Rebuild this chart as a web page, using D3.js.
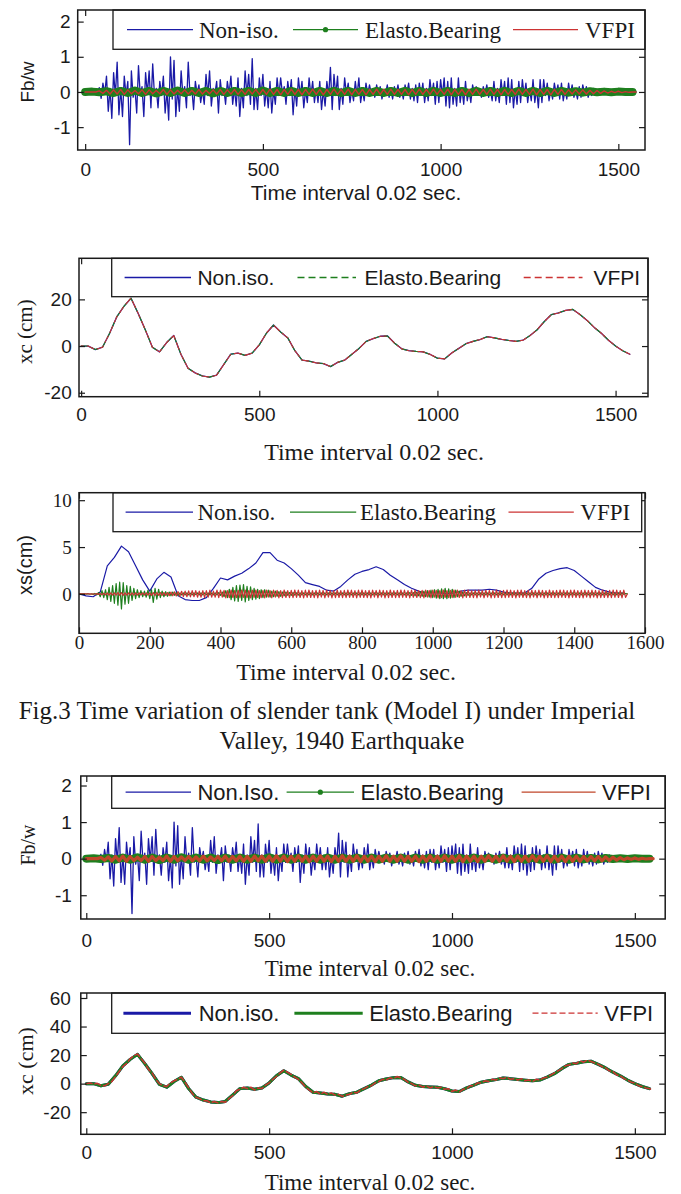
<!DOCTYPE html>
<html><head><meta charset="utf-8">
<script src="https://cdn.jsdelivr.net/npm/d3@7/dist/d3.min.js"></script>
<style>body{margin:0;background:#fff}svg{display:block}</style>
</head><body><svg id="c" width="681" height="1194"></svg>
<script>
// ---------------- DATA ----------------
// time index of every series: sample number (time interval 0.02 s)
const fbStepNonIso = 5, fbStepElasto = 20, fbStepVfpi = 10;
const fbNonIso = [
0,0,0,0,0,0,0,0.05,0.12,-0.18,
0.25,-0.05,0.45,-0.55,0.1,-0.75,0.55,-0.1,0.85,-0.65,
0.1,-0.7,0.45,-0.1,0.3,-1.5,0.6,-0.15,0.1,-0.6,
0.75,-0.1,0.15,-0.7,0.55,-0.05,0.6,-0.45,0.8,-0.1,
0.1,-0.45,0.3,-0.1,0.45,-0.6,0.05,-0.8,1.0,-0.2,
0.9,-0.7,0.1,-0.55,0.6,-0.1,0.15,-0.45,0.85,-0.1,
0.1,-0.5,0.3,-0.05,0.2,-0.3,0.05,-0.35,0.5,-0.1,
0.6,-0.4,0.1,-0.05,0.3,-0.6,0.35,-0.1,0.1,-0.35,
0.3,-0.05,0.45,-0.35,0.1,-0.4,0.4,-0.7,0.1,-0.45,
0.6,-0.1,0.5,-0.35,0.95,-0.5,0.1,-0.5,0.4,-0.1,
0.5,-0.4,0.1,-0.45,0.3,-0.6,0.05,-0.35,0.4,-0.1,
0.4,-0.05,0.15,-0.35,0.3,-0.1,0.35,-0.65,0.1,-0.4,
0.4,-0.1,0.3,-0.45,0.05,-0.3,0.4,-0.1,0.3,-0.3,
0.1,-0.3,0.3,-0.5,0.05,-0.4,0.3,-0.1,0.7,-0.5,
0.5,-0.1,0.45,-0.5,0.1,-0.35,0.4,-0.05,0.25,-0.3,
0.05,-0.25,0.3,-0.1,0.4,-0.3,0.05,-0.25,0.25,-0.05,
0.2,-0.05,0.05,-0.15,0.2,-0.05,0.15,-0.2,0.05,-0.05,
0.2,-0.15,0.05,-0.2,0.15,-0.05,0.2,-0.15,0.05,-0.2,
0.2,-0.05,0.25,-0.2,0.1,-0.25,0.2,-0.3,0.25,-0.1,
0.25,-0.3,0.1,-0.25,0.35,-0.1,0.25,-0.35,0.3,-0.3,
0.35,-0.1,0.4,-0.4,0.3,-0.45,0.4,-0.35,0.1,-0.4,
0.4,-0.3,0.1,-0.35,0.3,-0.25,0.05,-0.3,0.2,-0.05,
0.15,-0.05,0.05,-0.15,0.15,-0.05,0.2,-0.15,0.05,-0.25,
0.3,-0.25,0.1,-0.3,0.35,-0.1,0.3,-0.35,0.4,-0.3,
0.35,-0.45,0.1,-0.35,0.3,-0.3,0.35,-0.1,0.25,-0.3,
0.1,-0.25,0.35,-0.3,0.1,-0.45,0.35,-0.3,0.35,-0.1,
0.25,-0.25,0.05,-0.2,0.25,-0.05,0.2,-0.2,0.25,-0.25,
0.05,-0.2,0.25,-0.1,0.2,-0.15,0.05,-0.2,0.15,-0.15,
0.2,-0.05,0.15,-0.15,0.05,-0.1,0.1,-0.05,0.05,-0.05,
0,0,0,0,0,0,0,0,0,0,
0,0,0,0,0,0,0,0,0,0,
0];
const fbElasto = [
0,0.01,-0.01,0.02,-0.03,0.03,-0.03,0.04,-0.03,0.03,
-0.04,0.03,-0.03,0.04,-0.03,0.03,-0.03,0.03,-0.04,0.03,
-0.03,0.03,-0.03,0.03,-0.03,0.04,-0.03,0.03,-0.03,0.03,
-0.03,0.03,-0.03,0.03,-0.03,0.03,-0.03,0.03,-0.03,0.03,
-0.03,0.03,-0.03,0.03,-0.03,0.03,-0.03,0.03,-0.03,0.03,
-0.03,0.03,-0.03,0.03,-0.03,0.03,-0.03,0.03,-0.03,0.03,
-0.03,0.03,-0.03,0.03,-0.03,0.03,-0.03,0.03,-0.02,0.02,
-0.02,0.02,-0.01,0.01,-0.01,0.01,0,0];
const fbVfpi = [
0,0,0,0,0.03,-0.04,0.05,-0.06,0.06,-0.06,
0.07,-0.07,0.06,-0.05,0.04,-0.05,0.06,-0.07,0.06,-0.05,
0.04,-0.05,0.07,-0.07,0.06,-0.06,0.05,-0.05,0.06,-0.06,
0.05,-0.06,0.07,-0.06,0.05,-0.05,0.06,-0.06,0.07,-0.07,
0.06,-0.06,0.07,-0.07,0.06,-0.07,0.07,-0.06,0.07,-0.07,
0.07,-0.07,0.08,-0.07,0.07,-0.08,0.07,-0.07,0.08,-0.07,
0.07,-0.08,0.07,-0.07,0.08,-0.07,0.07,-0.08,0.07,-0.07,
0.08,-0.07,0.07,-0.07,0.08,-0.08,0.07,-0.07,0.07,-0.08,
0.07,-0.07,0.08,-0.07,0.07,-0.07,0.08,-0.07,0.07,-0.07,
0.07,-0.08,0.07,-0.07,0.08,-0.07,0.07,-0.07,0.08,-0.07,
0.07,-0.07,0.08,-0.08,0.07,-0.07,0.07,-0.08,0.07,-0.07,
0.08,-0.07,0.07,-0.07,0.08,-0.07,0.07,-0.08,0.07,-0.07,
0.07,-0.07,0.08,-0.07,0.07,-0.07,0.08,-0.08,0.07,-0.07,
0.07,-0.08,0.07,-0.07,0.07,-0.07,0.06,-0.06,0.06,-0.06,
0.06,-0.06,0.05,-0.05,0.04,-0.04,0.03,-0.03,0.02,-0.02,
0.02,-0.02,0.01,-0.01,0,0];

const xcStep = 20, xcVfpiStep = 10;
const xcNonIso = [
0,0,-1.5,-0.5,5.5,12.5,17,20.5,14,7,
-0.5,-2.5,1.5,4.5,-3.5,-9.5,-11.5,-12.8,-13.3,-12.5,
-8,-3.5,-3,-4,-3,0.5,5.5,9,6,3.5,
-2,-6,-6.5,-7.2,-7.5,-8.8,-7,-6,-3.5,-1,
2,3.2,4.2,4.3,1.2,-1.2,-2,-2.3,-2.5,-3.6,
-5.2,-5.5,-3,-1,1,2,2.8,4,3.5,2.9,
2.4,2,2.5,4.5,7,10.5,13.5,14.2,15.3,15.7,
13.5,11,8,5.5,2.5,0,-2,-3.5];
const xcElasto = xcNonIso;   // the three xc curves coincide in the picture
const xcVfpi = xcNonIso;
const xcVfpiNoisy = [
0,0.5,-0.3,0.2,-1.2,-1.5,0,1.5,5,8.5,
12,14,17.5,19.5,20.8,17.5,14.5,10,7.5,3,
0,-1.5,-2,0.5,2,3,4.5,1,-3,-7,
-9.5,-10.5,-12,-12,-13.5,-12.5,-13.5,-12.5,-13,-10.5,
-8.5,-5,-4,-2.5,-3.5,-2.5,-4.5,-3,-3.5,-1,
0.5,3,5,7.5,9.5,8,6.5,4.5,3,0.5,
-2.5,-4.5,-6.5,-5.5,-7.5,-6,-7.5,-6.5,-8,-7.5,
-9,-8,-7.5,-6,-6.5,-4.5,-3.5,-2,-1.5,0.5,
1.5,3,2.5,4,3.5,5,4,3,1,0,
-1.5,-1,-2.5,-1.5,-3,-2,-3,-2.5,-4,-3.5,
-5.5,-4.5,-6,-4,-3.5,-1.5,-1.5,0.5,0.5,2,
1.5,3,2.5,4,3.5,4.5,3,3.5,2.5,3.5,
2,2.5,1.5,3,2.5,4,4.5,6,7.5,9,
10.5,12.5,13,14.5,14,16,15,16.5,15.5,14.5,
13.5,12,11,9,8.5,6,5.5,3.5,2.5,1,
0.5,-1.5,-2,-3,-3.5,-4.5];

const xsStepNonIso = 20, xsStepOsc = 5;
const xsNonIso = [
0,-0.2,-0.3,0.2,3.0,3.9,5.1,4.5,3.0,1.5,
0.3,1.6,2.3,1.8,-0.2,-0.6,-0.7,-0.7,-0.4,0.6,
1.7,1.5,1.9,2.2,2.7,3.3,4.4,4.4,3.6,3.3,
2.7,2.0,1.2,1.0,0.8,0.4,0.3,0.8,1.5,2.1,
2.4,2.6,2.9,2.6,2.0,1.5,1.0,0.6,0.3,0.1,
0.1,0.1,0,0.1,0.3,0.4,0.4,0.4,0.5,0.4,
0.2,0.1,0.1,0.1,0.6,1.6,2.2,2.5,2.7,2.8,
2.5,1.9,1.3,0.7,0.4,0.2,0.1,0.1];
const xsElasto = [
0,0,0,0.02,-0.02,0.03,-0.03,0.02,-0.05,0.05,
-0.1,0.15,-0.3,0.35,-0.4,0.45,-0.6,0.7,-0.8,0.9,
-1.0,1.1,-1.2,1.25,-1.6,1.2,-1.1,0.9,-1.0,0.8,
-0.7,0.6,-0.5,0.45,-0.4,0.35,-0.3,0.3,-0.35,0.4,
-0.5,0.45,-0.9,0.6,-0.55,0.5,-0.4,0.3,-0.3,0.25,
-0.25,0.2,-0.2,0.2,-0.15,0.15,-0.15,0.1,-0.1,0.1,
-0.1,0.1,-0.1,0.08,-0.1,0.1,-0.08,0.1,-0.1,0.1,
-0.1,0.1,-0.1,0.1,-0.1,0.1,-0.1,0.1,-0.1,0.15,
-0.15,0.2,-0.3,0.35,-0.4,0.5,-0.6,0.7,-0.75,0.9,
-0.8,0.95,-0.7,1.0,-0.85,0.8,-0.7,0.75,-0.6,0.6,
-0.55,0.5,-0.5,0.45,-0.4,0.45,-0.35,0.4,-0.35,0.3,
-0.3,0.3,-0.25,0.25,-0.25,0.2,-0.2,0.2,-0.15,0.15,
-0.15,0.15,-0.12,0.12,-0.12,0.1,-0.1,0.1,-0.1,0.1,
-0.1,0.1,-0.1,0.1,-0.1,0.1,-0.1,0.1,-0.1,0.1,
-0.1,0.1,-0.1,0.1,-0.1,0.1,-0.1,0.1,-0.1,0.1,
-0.1,0.1,-0.1,0.1,-0.1,0.1,-0.1,0.1,-0.1,0.1,
-0.1,0.1,-0.1,0.1,-0.1,0.1,-0.1,0.1,-0.1,0.1,
-0.1,0.1,-0.1,0.1,-0.1,0.1,-0.1,0.1,-0.1,0.1,
-0.1,0.1,-0.1,0.1,-0.1,0.12,-0.12,0.15,-0.15,0.15,
-0.2,0.2,-0.2,0.25,-0.25,0.3,-0.3,0.35,-0.35,0.4,
-0.4,0.45,-0.45,0.5,-0.5,0.55,-0.5,0.6,-0.5,0.55,
-0.45,0.5,-0.4,0.4,-0.3,0.3,-0.25,0.2,-0.2,0.15,
-0.15,0.1,-0.1,0.1,-0.1,0.1,-0.1,0.1,-0.1,0.1,
-0.1,0.1,-0.1,0.1,-0.1,0.1,-0.1,0.1,-0.1,0.1,
-0.1,0.1,-0.1,0.1,-0.1,0.1,-0.1,0.1,-0.1,0.1,
-0.1,0.1,-0.1,0.1,-0.1,0.1,-0.1,0.1,-0.1,0.1,
-0.1,0.1,-0.1,0.1,-0.1,0.1,-0.1,0.1,-0.1,0.1,
-0.1,0.1,-0.1,0.1,-0.1,0.1,-0.1,0.1,-0.1,0.1,
-0.1,0.1,-0.1,0.1,-0.1,0.1,-0.1,0.1,-0.1,0.1,
-0.1,0.1,-0.1,0.1,-0.1,0.1,-0.1,0.1,-0.1,0.1,
-0.1,0.1,-0.1,0.1,-0.1,0.1,-0.1,0.1,-0.05,0.05,
0];
const xsVfpi = [
0,0,0,0,0,0,0,-0.02,0.02,-0.03,
0.03,-0.05,0.05,-0.08,0.08,-0.1,0.1,-0.12,0.12,-0.12,
0.12,-0.12,0.15,-0.15,0.15,-0.15,0.12,-0.12,0.12,-0.12,
0.12,-0.12,0.12,-0.12,0.1,-0.1,0.12,-0.12,0.12,-0.12,
0.12,-0.15,0.15,-0.15,0.15,-0.15,0.15,-0.15,0.15,-0.15,
0.15,-0.18,0.2,-0.2,0.22,-0.22,0.25,-0.25,0.28,-0.28,
0.3,-0.3,0.32,-0.32,0.35,-0.3,0.35,-0.35,0.3,-0.35,
0.35,-0.4,0.35,-0.35,0.4,-0.35,0.3,-0.35,0.4,-0.4,
0.4,-0.35,0.38,-0.42,0.35,-0.4,0.42,-0.38,0.36,-0.4,
0.38,-0.4,0.42,-0.36,0.4,-0.38,0.35,-0.42,0.4,-0.37,
0.42,-0.38,0.36,-0.4,0.38,-0.42,0.4,-0.35,0.37,-0.41,
0.4,-0.35,0.38,-0.42,0.35,-0.4,0.42,-0.38,0.36,-0.4,
0.38,-0.4,0.42,-0.36,0.4,-0.38,0.35,-0.42,0.4,-0.37,
0.42,-0.38,0.36,-0.4,0.38,-0.42,0.4,-0.35,0.37,-0.41,
0.4,-0.35,0.38,-0.42,0.35,-0.4,0.42,-0.38,0.36,-0.4,
0.38,-0.4,0.42,-0.36,0.4,-0.38,0.35,-0.42,0.4,-0.37,
0.42,-0.38,0.36,-0.4,0.38,-0.42,0.4,-0.35,0.37,-0.41,
0.4,-0.35,0.38,-0.42,0.35,-0.4,0.42,-0.38,0.36,-0.4,
0.38,-0.4,0.42,-0.36,0.4,-0.38,0.35,-0.42,0.4,-0.37,
0.42,-0.38,0.36,-0.4,0.38,-0.42,0.4,-0.35,0.37,-0.41,
0.4,-0.35,0.38,-0.42,0.35,-0.4,0.42,-0.38,0.36,-0.4,
0.38,-0.4,0.42,-0.36,0.4,-0.38,0.35,-0.42,0.4,-0.37,
0.42,-0.38,0.36,-0.4,0.38,-0.42,0.4,-0.35,0.37,-0.41,
0.4,-0.35,0.38,-0.42,0.35,-0.4,0.42,-0.38,0.36,-0.4,
0.38,-0.4,0.42,-0.36,0.4,-0.38,0.35,-0.42,0.4,-0.37,
0.42,-0.38,0.36,-0.4,0.38,-0.42,0.4,-0.35,0.37,-0.41,
0.4,-0.35,0.38,-0.42,0.35,-0.4,0.42,-0.38,0.36,-0.4,
0.38,-0.4,0.42,-0.36,0.4,-0.38,0.35,-0.42,0.4,-0.37,
0.42,-0.38,0.36,-0.4,0.38,-0.42,0.4,-0.35,0.37,-0.41,
0.4,-0.35,0.38,-0.42,0.35,-0.4,0.42,-0.38,0.36,-0.4,
0.38,-0.4,0.42,-0.36,0.4,-0.38,0.35,-0.42,0.4,-0.37,
0];

// tick labels
const ticksX1500 = [0, 500, 1000, 1500];
const ticksX1600 = [0, 200, 400, 600, 800, 1000, 1200, 1400, 1600];
const ticksFb = [-1, 0, 1, 2];
const ticksXc2 = [-20, 0, 20];
const ticksXs = [0, 5, 10];
const ticksXc5 = [-20, 0, 20, 40, 60];

// legend labels
const legend1 = ["Non-iso.", "Elasto.Bearing", "VFPI"];
const legend2 = ["Non.iso.", "Elasto.Bearing", "VFPI"];
const legend3 = ["Non.iso.", "Elasto.Bearing", "VFPI"];
const legend4 = ["Non.Iso.", "Elasto.Bearing", "VFPI"];
const legend5 = ["Non.iso.", "Elasto.Bearing", "VFPI"];
const xTitle = "Time interval 0.02 sec.";
const caption1 = "Fig.3 Time variation of slender tank (Model I) under Imperial";
const caption2 = "Valley, 1940 Earthquake";

// ---------------- DRAWING ----------------
const SANS = "'Liberation Sans', Arial, sans-serif";
const SERIF = "'Liberation Serif', 'Times New Roman', serif";
const BLUE = "#1a1aa6", GREEN = "#1e7f1e", RED = "#cc3333", INK = "#1a1a1a";

const svg = d3.select("#c");
svg.append("rect").attr("width", 681).attr("height", 1194).attr("fill", "#fff");

const pts = (vals, step) => vals.map((v, i) => [i * step, v]);
const fmt = d => String(d);

function panel(c) {
  const g = svg.append("g");
  const x = d3.scaleLinear().domain(c.xDomain).range([c.left, c.right]);
  const y = d3.scaleLinear().domain(c.yDomain).range([c.bottom, c.top]);
  const cid = "clip" + c.id;
  svg.append("clipPath").attr("id", cid).append("rect")
    .attr("x", c.left).attr("y", c.top).attr("width", c.right - c.left).attr("height", c.bottom - c.top);
  const plot = g.append("g").attr("clip-path", `url(#${cid})`);
  const line = d3.line().x(d => x(d[0])).y(d => y(d[1]));
  c.series.forEach(s => {
    plot.append("path").datum(pts(s.values, s.step)).attr("d", line)
      .attr("fill", "none").attr("stroke", s.color).attr("stroke-width", s.width)
      .attr("stroke-linejoin", "round").attr("stroke-linecap", "round")
      .attr("stroke-dasharray", s.dash || null).attr("stroke-dashoffset", s.dashOffset || 0);
  });
  const T = 6;
  const ax = [
    g.append("g").attr("transform", `translate(0,${c.bottom})`)
      .call(d3.axisBottom(x).tickValues(c.xTicks).tickFormat(fmt).tickSizeInner(-T).tickSizeOuter(0).tickPadding(c.xPad)),
    g.append("g").attr("transform", `translate(0,${c.top})`)
      .call(d3.axisTop(x).tickValues(c.xTicks).tickSizeInner(-T).tickSizeOuter(0).tickFormat("")),
    g.append("g").attr("transform", `translate(${c.left},0)`)
      .call(d3.axisLeft(y).tickValues(c.yTicks).tickFormat(fmt).tickSizeInner(-T).tickSizeOuter(0).tickPadding(c.yPad)),
    g.append("g").attr("transform", `translate(${c.right},0)`)
      .call(d3.axisRight(y).tickValues(c.yTicks).tickSizeInner(-T).tickSizeOuter(0).tickFormat(""))
  ];
  ax.forEach(a => {
    a.select(".domain").remove();
    a.selectAll("line").attr("stroke", INK).attr("stroke-width", 1.2);
    a.selectAll("text").attr("font-family", c.tickFont).attr("font-size", c.tickSize).attr("fill", INK);
  });
  // legend
  const L = c.legend;
  const lg = g.append("g");
  lg.append("rect").attr("x", L.x0).attr("y", L.y0).attr("width", L.x1 - L.x0).attr("height", L.y1 - L.y0)
    .attr("fill", "#fff").attr("stroke", INK).attr("stroke-width", 1.3);
  const cy = (L.y0 + L.y1) / 2;
  L.items.forEach((it, i) => {
    const s = c.series[i];
    lg.append("line").attr("x1", it[0]).attr("x2", it[1]).attr("y1", cy).attr("y2", cy)
      .attr("stroke", s.color).attr("stroke-width", s.legendWidth || 1.3).attr("stroke-dasharray", s.dash || null);
    if (s.dot) lg.append("circle").attr("cx", (it[0] + it[1]) / 2).attr("cy", cy).attr("r", 2.6).attr("fill", s.color);
    lg.append("text").attr("x", it[2]).attr("y", cy).attr("dy", "0.35em")
      .attr("font-family", L.font).attr("font-size", L.size).attr("fill", INK).text(L.labels[i]);
  });
  // frame
  g.append("rect").attr("x", c.left).attr("y", c.top).attr("width", c.right - c.left).attr("height", c.bottom - c.top)
    .attr("fill", "none").attr("stroke", INK).attr("stroke-width", 1.5);
  // titles
  g.append("text").attr("x", c.xl[0]).attr("y", c.xl[1]).attr("dy", "0.35em").attr("text-anchor", "middle")
    .attr("font-family", c.xl[2]).attr("font-size", c.xl[3]).attr("fill", INK).text(xTitle);
  g.append("text").attr("transform", `translate(${c.yl[0]},${c.yl[1]}) rotate(-90)`).attr("dy", "0.35em")
    .attr("text-anchor", "middle").attr("font-family", c.yl[2]).attr("font-size", c.yl[3]).attr("fill", INK).text(c.yl[4]);
}

panel({id: 1, left: 77.7, right: 645, top: 10, bottom: 150, xDomain: [-21, 1575], yDomain: [-1.65, 2.33],
  xTicks: ticksX1500, yTicks: ticksFb, xPad: 13, yPad: 7, tickFont: SANS, tickSize: 19,
  series: [
    {values: fbNonIso, step: fbStepNonIso, color: BLUE, width: 1.3},
    {values: fbElasto, step: fbStepElasto, color: GREEN, width: 8, dot: true},
    {values: fbVfpi, step: fbStepVfpi, color: RED, width: 1.4}],
  legend: {x0: 113, x1: 645, y0: 10, y1: 49.3, font: SERIF, size: 23, labels: legend1,
    items: [[127, 193, 199], [293, 358, 365], [513, 578, 585]]},
  xl: [356, 193, SANS, 21], yl: [27, 82, SANS, 19, "Fb/w"]});

panel({id: 2, left: 79, right: 648, top: 258.3, bottom: 396.7, xDomain: [-6, 1591], yDomain: [-21.7, 37.6],
  xTicks: ticksX1500, yTicks: ticksXc2, xPad: 10.5, yPad: 7.3, tickFont: SANS, tickSize: 19,
  series: [
    {values: xcNonIso, step: xcStep, color: BLUE, width: 1.3},
    {values: xcElasto, step: xcStep, color: GREEN, width: 1.1, dash: "7,4"},
    {values: xcVfpi, step: xcStep, color: RED, width: 1.1, dash: "7,4", dashOffset: 5}],
  legend: {x0: 111.7, x1: 648, y0: 258.3, y1: 296.7, font: SANS, size: 21, labels: legend2,
    items: [[124.6, 191, 197.4], [297.5, 356, 364.6], [523.7, 582.5, 593.4]]},
  xl: [374, 452, SERIF, 24], yl: [25, 331.7, SERIF, 21, "xc (cm)"]});

panel({id: 3, left: 79, right: 645, top: 492.7, bottom: 633.3, xDomain: [0, 1600], yDomain: [-4.2, 10.8],
  xTicks: ticksX1600, yTicks: ticksXs, xPad: 2, yPad: 7.3, tickFont: SERIF, tickSize: 19,
  series: [
    {values: xsNonIso, step: xsStepNonIso, color: BLUE, width: 1.2},
    {values: xsElasto, step: xsStepOsc, color: GREEN, width: 1.2},
    {values: xsVfpi, step: xsStepOsc, color: RED, width: 1.2}],
  legend: {x0: 113, x1: 641.7, y0: 492.7, y1: 531.7, font: SERIF, size: 23, labels: legend3,
    items: [[125.6, 193, 197.4], [290, 356.2, 360], [508.5, 573.8, 580.3]]},
  xl: [346, 672, SERIF, 24], yl: [25, 565, SANS, 20, "xs(cm)"]});

panel({id: 4, left: 80.8, right: 665.2, top: 776, bottom: 919, xDomain: [-15, 1583], yDomain: [-1.65, 2.26],
  xTicks: ticksX1500, yTicks: ticksFb, xPad: 14.4, yPad: 9, tickFont: SANS, tickSize: 19,
  series: [
    {values: fbNonIso, step: fbStepNonIso, color: BLUE, width: 1.3},
    {values: fbElasto, step: fbStepElasto, color: GREEN, width: 8, dot: true},
    {values: fbVfpi, step: fbStepVfpi, color: "#c0462a", width: 3.2, legendWidth: 1.3}],
  legend: {x0: 111.7, x1: 665.2, y0: 776, y1: 808.3, font: SANS, size: 22, labels: legend4,
    items: [[125.6, 191, 197.4], [286.6, 354, 360.6], [521.6, 595.6, 602]]},
  xl: [370, 968, SERIF, 23], yl: [28, 845, SERIF, 20, "Fb/w"]});

panel({id: 5, left: 80.8, right: 665.2, top: 993, bottom: 1134.3, xDomain: [-15, 1583], yDomain: [-35.5, 63.5],
  xTicks: ticksX1500, yTicks: ticksXc5, xPad: 11.5, yPad: 10, tickFont: SANS, tickSize: 19,
  series: [
    {values: xcNonIso, step: xcStep, color: BLUE, width: 3, legendWidth: 3},
    {values: xcElasto, step: xcStep, color: GREEN, width: 3, legendWidth: 3},
    {values: xcVfpiNoisy, step: xcVfpiStep, color: RED, width: 1.5, dash: "6,3"}],
  legend: {x0: 111.7, x1: 665.2, y0: 993, y1: 1033.3, font: SANS, size: 22, labels: legend5,
    items: [[123.4, 191, 198.7], [294.4, 362.7, 369.3], [532.5, 597.7, 604.3]]},
  xl: [370, 1181.7, SERIF, 23], yl: [25, 1061, SERIF, 22, "xc (cm)"]});

// caption
svg.append("text").attr("x", 327).attr("y", 710).attr("dy", "0.35em").attr("text-anchor", "middle")
  .attr("font-family", SERIF).attr("font-size", 25).attr("fill", INK).text(caption1);
svg.append("text").attr("x", 342).attr("y", 740).attr("dy", "0.35em").attr("text-anchor", "middle")
  .attr("font-family", SERIF).attr("font-size", 25).attr("fill", INK).text(caption2);
</script>
</body></html>
